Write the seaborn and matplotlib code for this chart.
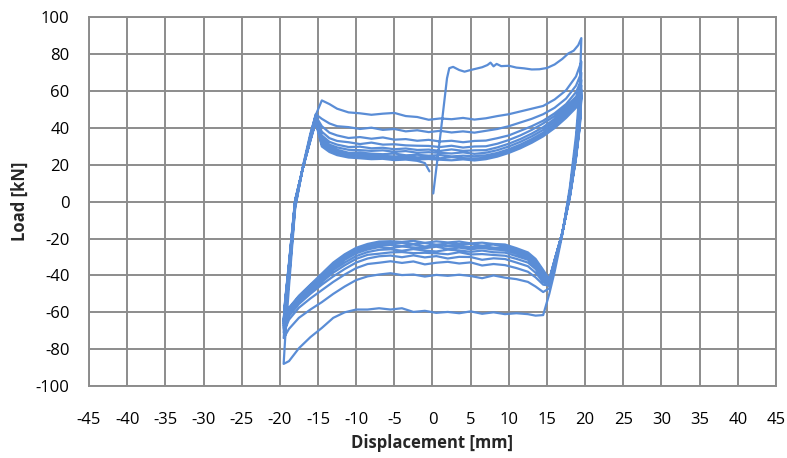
import matplotlib
matplotlib.use("Agg")
import matplotlib.pyplot as plt
import numpy as np
import pandas as pd
import seaborn as sns

# ---- measured data: cyclic load test, displacement [mm] vs load [kN] ----

# initial monotonic loading up to the first peak
init_disp = [0.1, 0.5, 1.0, 1.5, 1.9, 2.2, 2.7, 3.5, 4.2, 5.0, 5.8, 6.5, 7.2, 7.6,
             8.0, 8.4, 9.0, 10.0, 11.0, 12.0, 13.0, 14.0, 15.0, 16.0, 17.0, 17.8,
             18.5, 19.1, 19.5]
init_load = [4.5, 18, 35, 53, 67, 72.5, 73.2, 71.5, 70.6, 71.5, 72.3, 73, 74.2, 75.5,
             73.5, 74.8, 73.6, 73.8, 72.8, 72.4, 71.8, 71.9, 72.6, 74.5, 77.5, 80.5,
             82, 85, 88.8]

# displacement stations of the loading branches (negative -> positive)
up_disp = [-19.5, -19.3, -18.8, -18.0, -17.0, -16.0, -15.3, -14.5, -13.5, -12.5,
           -11.0, -9.5, -8.0, -6.5, -5.0, -3.5, -2.0, -0.5, 1.0, 2.5, 4.0, 5.5,
           7.0, 8.5, 10.0, 11.5, 13.0, 14.5, 16.0, 17.5, 18.8, 19.5]
# displacement stations of the unloading branches (positive -> negative)
down_disp = [19.5, 19.3, 18.8, 18.0, 17.0, 16.0, 15.3, 14.5, 13.5, 12.5,
             11.0, 9.5, 8.0, 6.5, 5.0, 3.5, 2.0, 0.5, -1.0, -2.5, -4.0, -5.5,
             -7.0, -8.5, -10.0, -11.5, -13.0, -14.5, -16.0, -17.5, -18.8, -19.5]

# unloading branches (load at down_disp), cycles 1..10
down_1 = [88.8, 62, 36, 8, -18, -38, -50, -61.5, -61.8, -61, -60.5, -61, -60, -60.8,
          -59.5, -60.5, -59.8, -60.3, -59.2, -59.8, -57.8, -58.5, -57.8, -58.5, -58.5,
          -60, -63, -68.5, -73.5, -79.5, -86.5, -88]
down_2 = [76, 55, 32, 6, -17, -35, -47, -49, -46, -43.5, -42, -41.2, -40, -41.5,
          -40.3, -39.6, -40.2, -39.7, -40.6, -39.5, -39.8, -38.8, -39.5, -40.5, -42.5,
          -46, -50, -54.5, -58.5, -63, -69, -74]
down_3 = [70, 50, 29, 5, -17, -34, -45.5, -45, -41, -38, -36, -34.4, -33.8, -34.6,
          -32.9, -33.5, -32.6, -33.1, -34.0, -32.4, -33.2, -32.3, -33.1, -33.8, -36,
          -39.5, -43.5, -48, -52.5, -57.5, -64, -71]
down_4 = [66, 48, 28, 4.5, -17, -33.5, -45, -43.5, -38.5, -35, -33, -31.1, -30.7,
          -31.5, -30.0, -29.9, -30.8, -29.5, -30.2, -29.1, -30.1, -29.2, -29.6, -30.8,
          -33, -36.5, -40.5, -45, -50, -55.5, -62, -69]
down_5 = [63, 46, 26.5, 4, -17, -33, -44.5, -42, -36.5, -33, -31, -29.3, -28.9,
          -28.4, -28.6, -27.4, -28.5, -28.0, -27.7, -27.9, -27.3, -27.5, -28.2, -28.8,
          -31, -34.5, -38.5, -43.5, -48.5, -54.5, -61, -68]
down_6 = [61, 44, 25.5, 3.5, -17, -32.5, -44, -41, -35, -31.5, -29.5, -27.6, -27.4,
          -26.5, -27.2, -26.4, -26.0, -27.0, -26.5, -25.7, -26.6, -25.8, -26.1, -27.3,
          -29.5, -33, -37, -42.5, -47.5, -53.5, -60, -67]
down_7 = [60, 43, 25, 3.5, -17, -32, -43.5, -40, -34, -30.5, -28.2, -26.3, -25.9,
          -25.1, -25.8, -24.9, -25.6, -24.4, -25.2, -24.8, -24.3, -25.1, -24.6, -25.9,
          -28, -31.5, -36, -41.5, -46.5, -52.5, -59, -66]
down_8 = [58.5, 42, 24.5, 3, -17, -32, -43, -39, -33, -29.5, -27.2, -25.2, -24.9,
          -24.0, -24.6, -23.9, -24.1, -23.5, -24.3, -23.2, -24.0, -23.4, -23.6, -24.9,
          -27, -30.5, -35, -40.5, -46, -52, -58.5, -65]
down_9 = [57.5, 41, 24, 3, -17, -31.5, -42.5, -38, -32, -28.5, -26.2, -24.4, -23.2,
          -23.9, -22.9, -23.0, -22.7, -23.3, -22.4, -22.9, -22.3, -22.6, -22.4, -23.9,
          -26, -29.5, -34, -40, -45.5, -51.5, -58, -65]
down_10 = [56.5, 40.5, 23.5, 2.5, -17, -31.5, -42, -37, -31, -27.5, -25.2, -23.2,
           -22.9, -22.2, -22.6, -21.6, -22.1, -21.5, -22.3, -21.2, -21.8, -21.4, -21.6,
           -22.9, -25, -28.5, -33, -39, -45, -51, -57.5, -64]

# reloading branches (load at up_disp), cycles 1..9
up_1 = [-88, -74, -46, -4, 19, 37, 47, 55, 53, 50.5, 48.5, 48, 47.2, 47.8, 48.2,
        46.5, 46, 44.5, 45.2, 44.8, 45.5, 44.6, 45.3, 46.5, 47.5, 49, 50.5, 52,
        55.5, 60.5, 68, 76]
up_2 = [-74, -64, -42, -3, 18, 36, 47.5, 45, 42.5, 41, 40.5, 39.5, 40.2, 39, 39.5,
        38.2, 38.8, 37.8, 38.5, 37.6, 38.2, 37.5, 38.5, 39.5, 41, 43, 45, 47.5, 51,
        56, 63, 70]
up_3 = [-71, -60, -40, -2, 18, 35, 46.5, 41, 37.5, 36, 34.6, 35.1, 34.2, 34.9, 33.7,
        34.0, 33.1, 33.6, 32.7, 33.1, 32.3, 33.0, 33.2, 34.5, 36, 38.5, 41, 44, 48,
        53, 59.5, 66]
up_4 = [-69, -58, -38, -1, 18.5, 35, 46, 38, 34.5, 33, 32.3, 31.3, 32.1, 31.0, 31.2,
        30.6, 30.4, 30.3, 29.7, 30.4, 29.4, 30.0, 30.1, 31.5, 33.5, 36, 39, 42.5,
        46.5, 51.5, 57, 63]
up_5 = [-68, -57, -37, -1, 18, 34.5, 45.5, 36, 32.5, 31, 29.7, 29.9, 29.0, 29.3,
        28.5, 28.9, 28.1, 28.3, 27.6, 28.4, 27.6, 27.9, 28.0, 29.5, 31.5, 34, 37,
        40.5, 45, 50, 55.5, 61]
up_6 = [-67, -56, -36, 0, 18, 34, 45, 34.5, 31, 29.5, 28.2, 28.0, 27.6, 27.9, 27.1,
        27.5, 26.6, 26.9, 26.5, 26.2, 26.8, 26.0, 26.6, 28, 30, 32.5, 35.5, 39,
        43.5, 48.5, 54.5, 60]
up_7 = [-66, -55, -35, 0, 18, 34, 44.5, 33, 29.8, 28.2, 26.6, 26.7, 26.1, 25.8,
        26.2, 25.2, 25.5, 25.0, 25.3, 24.6, 25.0, 24.7, 25.2, 26.5, 28.5, 31, 34,
        37.5, 42, 47.5, 53, 58.5]
up_8 = [-65, -54, -34, 0.5, 18, 33.5, 44, 32, 28.8, 27.2, 25.7, 25.6, 25.2, 24.9,
        24.6, 24.8, 24.1, 24.3, 23.6, 24.2, 23.7, 23.4, 24.0, 25.5, 27.5, 30, 33,
        36.5, 41, 46.5, 52, 57.5]
up_9 = [-65, -54, -34, 0.5, 18, 33.5, 43.5, 31, 27.8, 26.2, 24.8, 24.5, 24.0, 23.8,
        23.4, 23.6, 22.9, 23.2, 22.8, 22.5, 23.0, 22.4, 23.1, 24.5, 26.5, 29, 32,
        35.5, 40, 45.5, 51, 56.5]

# last reloading branch stops near zero displacement
up_last_disp = [-19.5, -19.3, -18.8, -18.0, -17.0, -16.0, -15.3, -14.5, -13.5,
                -12.5, -11.0, -9.5, -8.0, -6.5, -5.0, -3.5, -2.0, -1.0, -0.4]
up_last_load = [-64, -53, -33, 1, 18, 33, 43, 30, 27, 25.3, 24.0, 23.6, 23.1,
                23.3, 22.6, 22.9, 22.2, 21, 16.5]

# ---- assemble the continuous test record in loading order ----
down_loads = [down_1, down_2, down_3, down_4, down_5, down_6, down_7, down_8,
              down_9, down_10]
up_loads = [up_1, up_2, up_3, up_4, up_5, up_6, up_7, up_8, up_9]

disp, load = list(init_disp), list(init_load)
for i, dl in enumerate(down_loads):
    disp += down_disp
    load += dl
    if i < len(up_loads):
        disp += up_disp
        load += up_loads[i]
    else:
        disp += up_last_disp
        load += up_last_load

df = pd.DataFrame({"Displacement": disp, "Load": load, "step": np.arange(len(disp))})

# ---- styling ----
sns.set_style("white")
plt.rcParams["font.family"] = ["Open Sans", "DejaVu Sans"]
plt.rcParams["axes.unicode_minus"] = False

grid_col = "#8C8C8C"
line_col = "#5A8DD6"

fig = plt.figure(figsize=(7.87, 4.58), dpi=100)
ax = fig.add_axes([0.1131, 0.1572, 0.8729, 0.8046])

sns.lineplot(data=df, x="Displacement", y="Load", sort=False, estimator=None,
             color=line_col, linewidth=1.6, ax=ax)

ax.set_xlim(-45, 45)
ax.set_ylim(-100, 100)
ax.set_xticks(np.arange(-45, 46, 5))
ax.set_yticks(np.arange(-100, 101, 20))
ax.grid(True, color=grid_col, linewidth=1.4)
ax.set_axisbelow(True)
for s in ax.spines.values():
    s.set_color(grid_col)
    s.set_linewidth(1.4)

ax.tick_params(axis="both", direction="out", length=6, width=1.4, color=grid_col,
               labelsize=12, labelcolor="black")
ax.tick_params(axis="x", pad=13)
ax.tick_params(axis="y", pad=8)

ax.set_xlabel("Displacement [mm]", fontsize=12, fontweight="bold", labelpad=4)
ax.set_ylabel("Load [kN]", fontsize=12, fontweight="bold", labelpad=5)

fig.savefig("out.png", dpi=100)
